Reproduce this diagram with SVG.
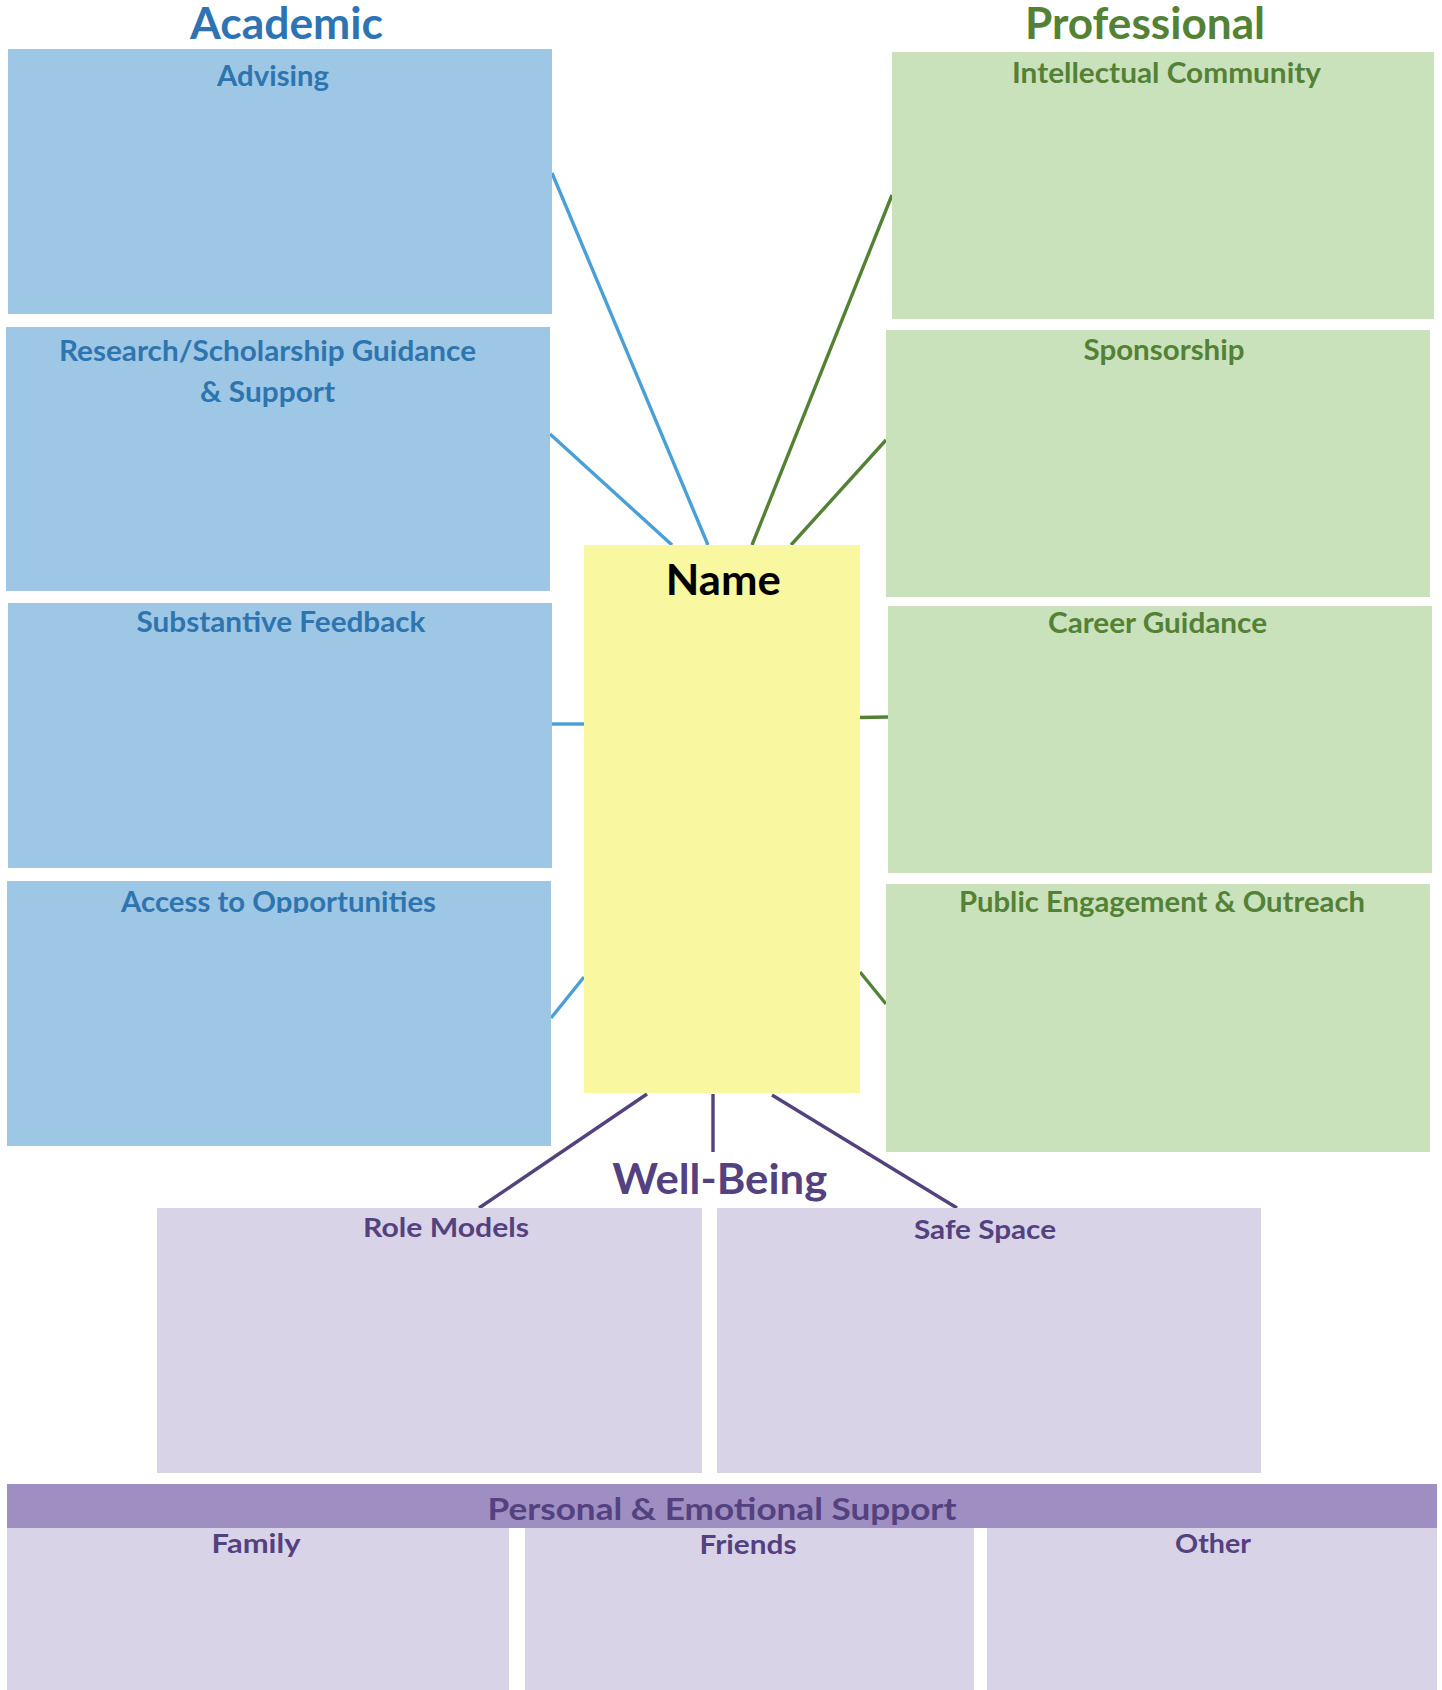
<svg xmlns="http://www.w3.org/2000/svg" width="1442" height="1690" viewBox="0 0 1442 1690">
<style>
text{font-family:Lato,"Open Sans","Liberation Sans",sans-serif;font-weight:bold;text-anchor:middle}
.bbox{fill:#9DC7E5}
.gbox{fill:#CAE2BB}
.pbox{fill:#D9D3E8}
.btxt{fill:#2E75B0;font-size:28px}
.gtxt{fill:#538135;font-size:28px}
.ptxt{fill:#54417F;font-size:27px}
.bl{stroke:#4A9FD5;stroke-width:3.4;fill:none}
.gl{stroke:#548235;stroke-width:3.4;fill:none}
.pl{stroke:#54427E;stroke-width:3.4;fill:none}
</style>
<defs>
<clipPath id="clipAccess"><rect x="0" y="880" width="560" height="33"/></clipPath>
</defs>
<rect width="1442" height="1690" fill="#FFFFFF"/>
<g id="connectors">
<line class="bl" x1="552" y1="173" x2="708" y2="545"/>
<line class="bl" x1="550" y1="434" x2="672" y2="545"/>
<line class="bl" x1="552" y1="724" x2="584" y2="724"/>
<line class="bl" x1="551" y1="1018" x2="584" y2="977"/>
<line class="gl" x1="892" y1="195" x2="752" y2="545"/>
<line class="gl" x1="886" y1="440" x2="791" y2="545"/>
<line class="gl" x1="860" y1="717.5" x2="888" y2="717"/>
<line class="gl" x1="860" y1="972" x2="886" y2="1004"/>
<line class="pl" x1="647" y1="1094" x2="479" y2="1208"/>
<line class="pl" x1="713" y1="1094" x2="713" y2="1152"/>
<line class="pl" x1="772" y1="1095" x2="957" y2="1208"/>
</g>
<g id="title-academic"><text x="286.5" y="39" font-size="43" fill="#2E74B5" textLength="193" lengthAdjust="spacingAndGlyphs">Academic</text></g>
<g id="title-professional"><text x="1145" y="39" font-size="43" fill="#538135" textLength="240" lengthAdjust="spacingAndGlyphs">Professional</text></g>
<g id="advising"><rect class="bbox" x="8" y="49" width="544" height="265"/><text class="btxt" x="273" y="86" textLength="112" lengthAdjust="spacingAndGlyphs">Advising</text></g>
<g id="research"><rect class="bbox" x="6" y="327" width="544" height="264"/><text class="btxt" x="267.5" y="361" textLength="417" lengthAdjust="spacingAndGlyphs">Research/Scholarship Guidance</text><text class="btxt" x="267.5" y="402" textLength="135" lengthAdjust="spacingAndGlyphs">&amp; Support</text></g>
<g id="feedback"><rect class="bbox" x="8" y="603" width="544" height="265"/><text class="btxt" x="281" y="632" textLength="289" lengthAdjust="spacingAndGlyphs">Substantive Feedback</text></g>
<g id="access"><rect class="bbox" x="7" y="881" width="544" height="265"/><text class="btxt" x="278.5" y="912" textLength="315" lengthAdjust="spacingAndGlyphs" clip-path="url(#clipAccess)">Access to Opportunities</text></g>
<g id="intellectual"><rect class="gbox" x="892" y="52" width="542" height="267"/><text class="gtxt" x="1166.5" y="83" textLength="309" lengthAdjust="spacingAndGlyphs">Intellectual Community</text></g>
<g id="sponsorship"><rect class="gbox" x="886" y="330" width="544" height="267"/><text class="gtxt" x="1164" y="360" textLength="161" lengthAdjust="spacingAndGlyphs">Sponsorship</text></g>
<g id="career"><rect class="gbox" x="888" y="606" width="544" height="267"/><text class="gtxt" x="1157.5" y="632.5" textLength="219" lengthAdjust="spacingAndGlyphs">Career Guidance</text></g>
<g id="public"><rect class="gbox" x="886" y="884" width="544" height="268"/><text class="gtxt" x="1162" y="911.5" textLength="406" lengthAdjust="spacingAndGlyphs">Public Engagement &amp; Outreach</text></g>
<g id="name"><rect x="584" y="545" width="276" height="548" fill="#F9F79F"/><text x="723.3" y="595" font-size="42" fill="#000000" textLength="115" lengthAdjust="spacingAndGlyphs">Name</text></g>
<g id="title-wellbeing"><text x="719.7" y="1193.5" font-size="42" fill="#54417F" textLength="215" lengthAdjust="spacingAndGlyphs">Well-Being</text></g>
<g id="rolemodels"><rect class="pbox" x="157" y="1208" width="545" height="265"/><text class="ptxt" x="446" y="1237" textLength="166" lengthAdjust="spacingAndGlyphs">Role Models</text></g>
<g id="safespace"><rect class="pbox" x="717" y="1208" width="544" height="265"/><text class="ptxt" x="985" y="1239" textLength="142" lengthAdjust="spacingAndGlyphs">Safe Space</text></g>
<g id="personal"><rect x="7" y="1484" width="1430" height="44" fill="#9E8EC2"/><text x="722" y="1520" font-size="31" fill="#54417F" textLength="469" lengthAdjust="spacingAndGlyphs">Personal &amp; Emotional Support</text></g>
<g id="family"><rect class="pbox" x="7" y="1528" width="502" height="162"/><text class="ptxt" x="256" y="1553" textLength="89" lengthAdjust="spacingAndGlyphs">Family</text></g>
<g id="friends"><rect class="pbox" x="525" y="1528" width="449" height="162"/><text class="ptxt" x="748" y="1554" textLength="97" lengthAdjust="spacingAndGlyphs">Friends</text></g>
<g id="other"><rect class="pbox" x="987" y="1528" width="450" height="162"/><text class="ptxt" x="1213" y="1553" textLength="76" lengthAdjust="spacingAndGlyphs">Other</text></g>
</svg>
